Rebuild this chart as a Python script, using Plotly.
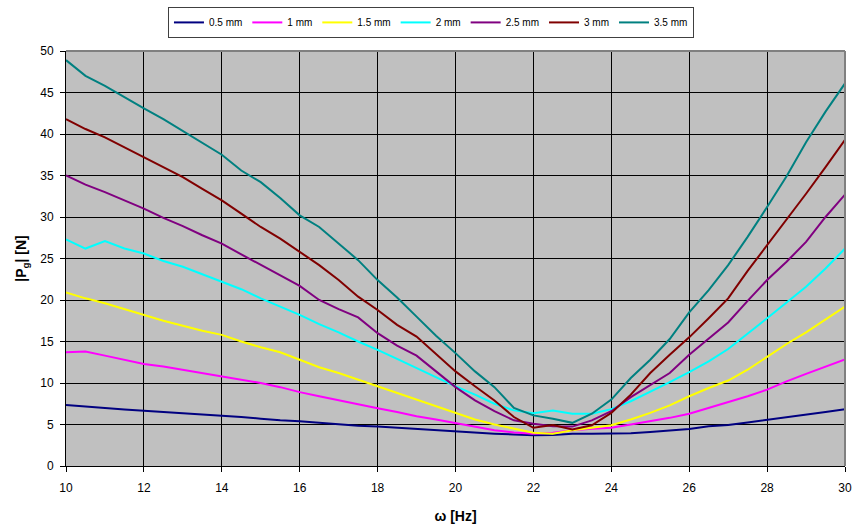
import plotly.graph_objects as go

# excitation frequency [Hz]
FREQ = [10 + 0.5 * i for i in range(41)]

SERIES_NAMES = ["0.5 mm", "1 mm", "1.5 mm", "2 mm", "2.5 mm", "3 mm", "3.5 mm"]
SERIES_COLORS = ["#000080", "#FF00FF", "#FFFF00", "#00FFFF", "#800080", "#800000", "#008080"]

# |Pg| [N] for each gap value
PG_05 = [7.35, 7.2, 7.0, 6.8, 6.65, 6.5, 6.35, 6.2, 6.1, 5.9, 5.7, 5.5, 5.4, 5.2, 5.0, 4.85,
         4.75, 4.6, 4.45, 4.3, 4.15, 4.0, 3.9, 3.8, 3.7, 3.75, 3.9, 3.9, 3.9, 3.95, 4.1, 4.3,
         4.45, 4.8, 4.95, 5.25, 5.55, 5.85, 6.2, 6.5, 6.85]
PG_10 = [13.7, 13.8, 13.3, 12.8, 12.3, 12.0, 11.6, 11.2, 10.8, 10.4, 10.0, 9.5, 8.9, 8.4, 7.9, 7.4,
         6.95, 6.5, 6.0, 5.6, 5.15, 4.7, 4.3, 4.05, 3.9, 4.0, 4.3, 4.5, 4.6, 5.0, 5.4, 5.8,
         6.3, 7.0, 7.75, 8.4, 9.2, 10.2, 11.1, 12.0, 12.85]
PG_15 = [20.9, 20.2, 19.6, 18.9, 18.2, 17.5, 16.9, 16.3, 15.8, 15.0, 14.3, 13.7, 12.8, 11.9, 11.2, 10.4,
         9.6, 8.8, 8.0, 7.2, 6.35, 5.6, 5.0, 4.5, 4.0, 3.9, 4.3, 4.6, 4.9, 5.6, 6.4, 7.3,
         8.4, 9.4, 10.3, 11.6, 13.2, 14.7, 16.1, 17.6, 19.2]
PG_20 = [27.3, 26.2, 27.1, 26.2, 25.6, 24.7, 24.0, 23.1, 22.2, 21.3, 20.2, 19.2, 18.2, 17.1, 16.1, 15.0,
         14.0, 12.9, 11.8, 10.7, 9.6, 8.6, 7.5, 6.7, 6.35, 6.7, 6.3, 6.3, 6.85, 7.8, 8.9, 10.1,
         11.3, 12.6, 14.1, 15.9, 17.8, 19.7, 21.6, 23.8, 26.2]
PG_25 = [35.0, 33.9, 33.0, 32.0, 31.0, 29.9, 28.9, 27.8, 26.8, 25.5, 24.2, 23.0, 21.7, 20.0, 18.9, 17.9,
         16.0, 14.5, 13.3, 11.4, 9.5, 7.9, 6.6, 5.5, 5.1, 4.8, 4.75, 5.5, 6.6, 8.3, 9.7, 11.2,
         13.4, 15.3, 17.3, 19.9, 22.4, 24.6, 27.0, 30.0, 32.7]
PG_30 = [41.8, 40.6, 39.6, 38.4, 37.3, 36.0, 34.8, 33.4, 32.0, 30.4, 28.8, 27.4, 25.8, 24.2, 22.4, 20.4,
         18.8, 17.0, 15.6, 13.5, 11.4, 9.6, 7.9, 5.9, 4.6, 4.95, 4.4, 4.9, 6.4, 8.6, 11.2, 13.4,
         15.5, 17.8, 20.2, 23.5, 26.6, 29.6, 32.8, 36.0, 39.3]
PG_35 = [48.9, 47.0, 45.8, 44.4, 43.1, 41.8, 40.4, 38.9, 37.5, 35.6, 34.2, 32.3, 30.2, 28.8, 26.8, 24.8,
         22.4, 20.3, 18.0, 15.7, 13.6, 11.4, 9.5, 7.0, 6.1, 5.7, 5.2, 6.3, 8.0, 10.6, 12.8, 15.3,
         18.5, 21.2, 24.2, 27.6, 31.2, 34.9, 39.0, 42.7, 46.1]

SERIES_VALUES = [PG_05, PG_10, PG_15, PG_20, PG_25, PG_30, PG_35]

X_TICKS = [10, 12, 14, 16, 18, 20, 22, 24, 26, 28, 30]
Y_TICKS = [0, 5, 10, 15, 20, 25, 30, 35, 40, 45, 50]

FONT = "Liberation Sans, Arial, sans-serif"

fig = go.Figure()
for name, color, vals in zip(SERIES_NAMES, SERIES_COLORS, SERIES_VALUES):
    fig.add_trace(go.Scatter(x=FREQ, y=vals, mode="lines", name=name,
                             line=dict(color=color, width=2)))

fig.update_layout(
    width=856, height=532,
    margin=dict(l=66, r=11, t=51, b=66, autoexpand=False),
    paper_bgcolor="white",
    plot_bgcolor="#C0C0C0",
    font=dict(family=FONT, size=12, color="black"),
    showlegend=True,
    legend=dict(orientation="h", x=0.4685, xanchor="center", y=0.987, yanchor="top",
                yref="container", bgcolor="white", bordercolor="#404040", borderwidth=1,
                font=dict(size=10), itemwidth=30, tracegroupgap=0),
    xaxis=dict(range=[10, 30], tickvals=X_TICKS, showgrid=True, gridcolor="black", gridwidth=1,
               showline=True, linecolor="black", linewidth=1, ticks="outside", ticklen=5,
               tickcolor="black", zeroline=False, automargin=False, ticklabelstandoff=6,
               title=dict(text="<b>ω [Hz]</b>", font=dict(size=14), standoff=16)),
    yaxis=dict(range=[0, 50], tickvals=Y_TICKS, showgrid=True, gridcolor="black", gridwidth=1,
               showline=True, linecolor="black", linewidth=1, ticks="outside", ticklen=5,
               tickcolor="black", zeroline=False, automargin=False, ticklabelstandoff=4,
               title=dict(text="<b>|P<sub>g</sub>| [N]</b>", font=dict(size=14), standoff=10)),
)

# grey frame on the top and right sides of the plot area
fig.add_shape(type="line", xref="paper", yref="paper", x0=0, x1=1, y0=1, y1=1,
              line=dict(color="#808080", width=2), layer="above")
fig.add_shape(type="line", xref="paper", yref="paper", x0=1, x1=1, y0=0, y1=1,
              line=dict(color="#808080", width=2), layer="above")

fig.write_html("out.html")
